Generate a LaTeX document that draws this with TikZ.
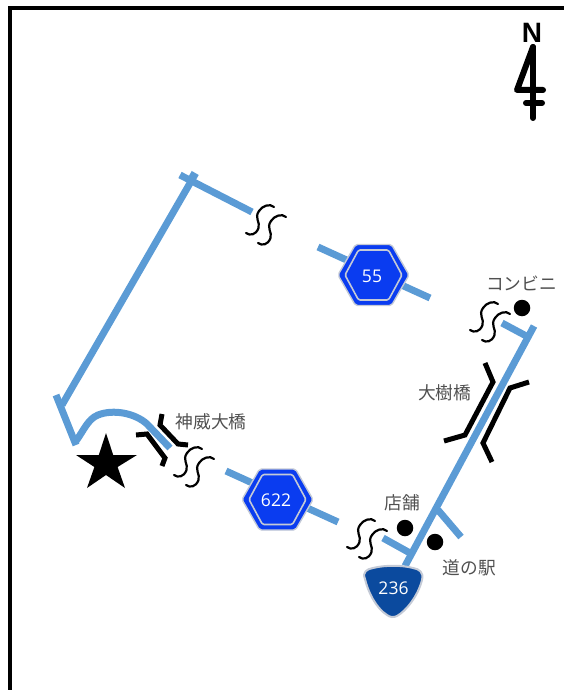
\documentclass[tikz,border=0pt]{standalone}
\usepackage{fontspec}
\newfontfamily\cjk{Noto Sans CJK JP}
\newfontfamily\numfont{Open Sans}
\newfontfamily\nfont{Liberation Sans}
\definecolor{roadc}{HTML}{5B9BD5}
\definecolor{hexblue}{HTML}{0A3CF0}
\definecolor{shieldblue}{HTML}{0B4A9E}
\definecolor{rimc}{HTML}{C4CAD6}
\definecolor{labelc}{HTML}{505050}
\tikzset{
  road/.style={draw=roadc,line width=7pt},
  bridge/.style={draw=black,line width=5pt,miter limit=10},
  wave/.style={draw=black,line width=2.2pt,line cap=round},
  lbl/.style={text=labelc,font=\cjk\fontsize{17.7}{20}\selectfont,inner sep=0pt},
  signnum/.style={text=white,font=\numfont\fontsize{17.5}{20}\selectfont,inner sep=0pt},
  dot/.style={circle,fill=black,minimum size=16.5pt,inner sep=0pt},
  northline/.style={draw=black,line width=6pt,line cap=round,line join=round},
  squiggle/.pic={
    \foreach \dx/\dy in {0/0,12/10}{
      \draw[wave] (\dx,\dy) .. controls (\dx+4,\dy+3) and (\dx+10,\dy+2) .. (\dx+12.5,\dy-5)
        .. controls (\dx+14.5,\dy-11) and (\dx+8,\dy-15) .. (\dx+13,\dy-22)
        .. controls (\dx+16,\dy-27) and (\dx+24,\dy-30) .. (\dx+28,\dy-26);
    }
  },
  hexsign/.pic={
    \filldraw[fill=hexblue,draw=rimc,line width=1.4pt,line join=round,rounded corners=2pt]
      (-35.5,0)--(-18,-30.5)--(18,-30.5)--(35.5,0)--(18,30.5)--(-18,30.5)--cycle;
    \draw[draw=rimc,line width=1.6pt,line join=round,rounded corners=1.5pt]
      (-28.5,0)--(-15,-25)--(15,-25)--(28.5,0)--(15,25)--(-15,25)--cycle;
  }
}
\begin{document}
\begin{tikzpicture}[x=1pt,y=-1pt]
\useasboundingbox (0,0) rectangle (564,690);
% frame
\draw[black,line width=3.6pt] (10,690) -- (10,8) -- (564,8);
% north arrow
\node[font=\nfont\bfseries\fontsize{28}{28}\selectfont,inner sep=0pt] (north) at (532,33) {N};
\draw[northline] (533,47) -- (533,118);
\draw[northline] (533,47) -- (517,90) -- (543,90);
\draw[northline] (526,103) -- (542,103);
% roads
\draw[road] (193,178) -- (62,405);
\draw[road] (56,395) -- (76,445);
\draw[road] (180,175) -- (252,212);
\draw[road] (190,174) -- (197,178);
\draw[road] (76,441) .. controls (84,430) and (88,419) .. (98,415)
  .. controls (113,409) and (135,413) .. (147,424) -- (170,448);
\draw[road] (318,247) -- (430,298);
\draw[road] (226,471) -- (338,522);
\draw[road] (534,326) -- (405,566);
\draw[road] (502,323) -- (530,338);
\draw[road] (438,510) -- (461,537);
\draw[road] (383,538) -- (410,553);
% bridges
\draw[bridge] (162,414) -- (160,425) -- (178,444) -- (188,445);
\draw[bridge] (136,435) -- (147,434) -- (165,458) -- (162,466);
\draw[bridge] (485,363) -- (493,382) -- (465,435) -- (444,441);
\draw[bridge] (529,382) -- (510,388) -- (483,443) -- (492,462);
% squiggles
\pic at (174,475) {squiggle};
\pic at (246,233) {squiggle};
\pic at (347,547) {squiggle};
\pic at (470,330) {squiggle};
% star
\fill[black] (106,433) -- (113.2,455) -- (137,455) -- (117.6,467) -- (125,488)
  -- (106,475) -- (87,488) -- (94.4,467) -- (76,455) -- (98.8,455) -- cycle;
% dots
\node[dot] (d1) at (522,308) {};
\node[dot] (d2) at (405,528) {};
\node[dot] (d3) at (435,542) {};
% signs
\pic at (373.5,275) {hexsign};
\node[signnum] (s55) at (372,276) {55};
\pic at (277.5,499.5) {hexsign};
\node[signnum] (s622) at (276,500) {622};
\filldraw[fill=shieldblue,draw=rimc,line width=2pt,line join=round]
  (365,579) .. controls (362,572) and (367,569) .. (373,568)
  .. controls (385,565) and (402,565) .. (413,568)
  .. controls (419,569) and (424,572) .. (422,580)
  .. controls (418,596) and (406,611) .. (397,616)
  .. controls (393,618) and (390,617) .. (387,615)
  .. controls (376,608) and (368,592) .. (365,579) -- cycle;
\node[signnum] (s236) at (393.5,588) {236};
% labels
\node[lbl,anchor=west] (l1) at (175.5,422) {神威大橋};
\node[lbl,anchor=west] (l2) at (418,393) {大樹橋};
\node[lbl,anchor=west] (l3) at (384.5,503) {店舗};
\node[lbl,anchor=west] (l4) at (442.5,568) {道の駅};
\node[lbl,anchor=west] (l5) at (486,283) {コンビニ};
\end{tikzpicture}
\end{document}
